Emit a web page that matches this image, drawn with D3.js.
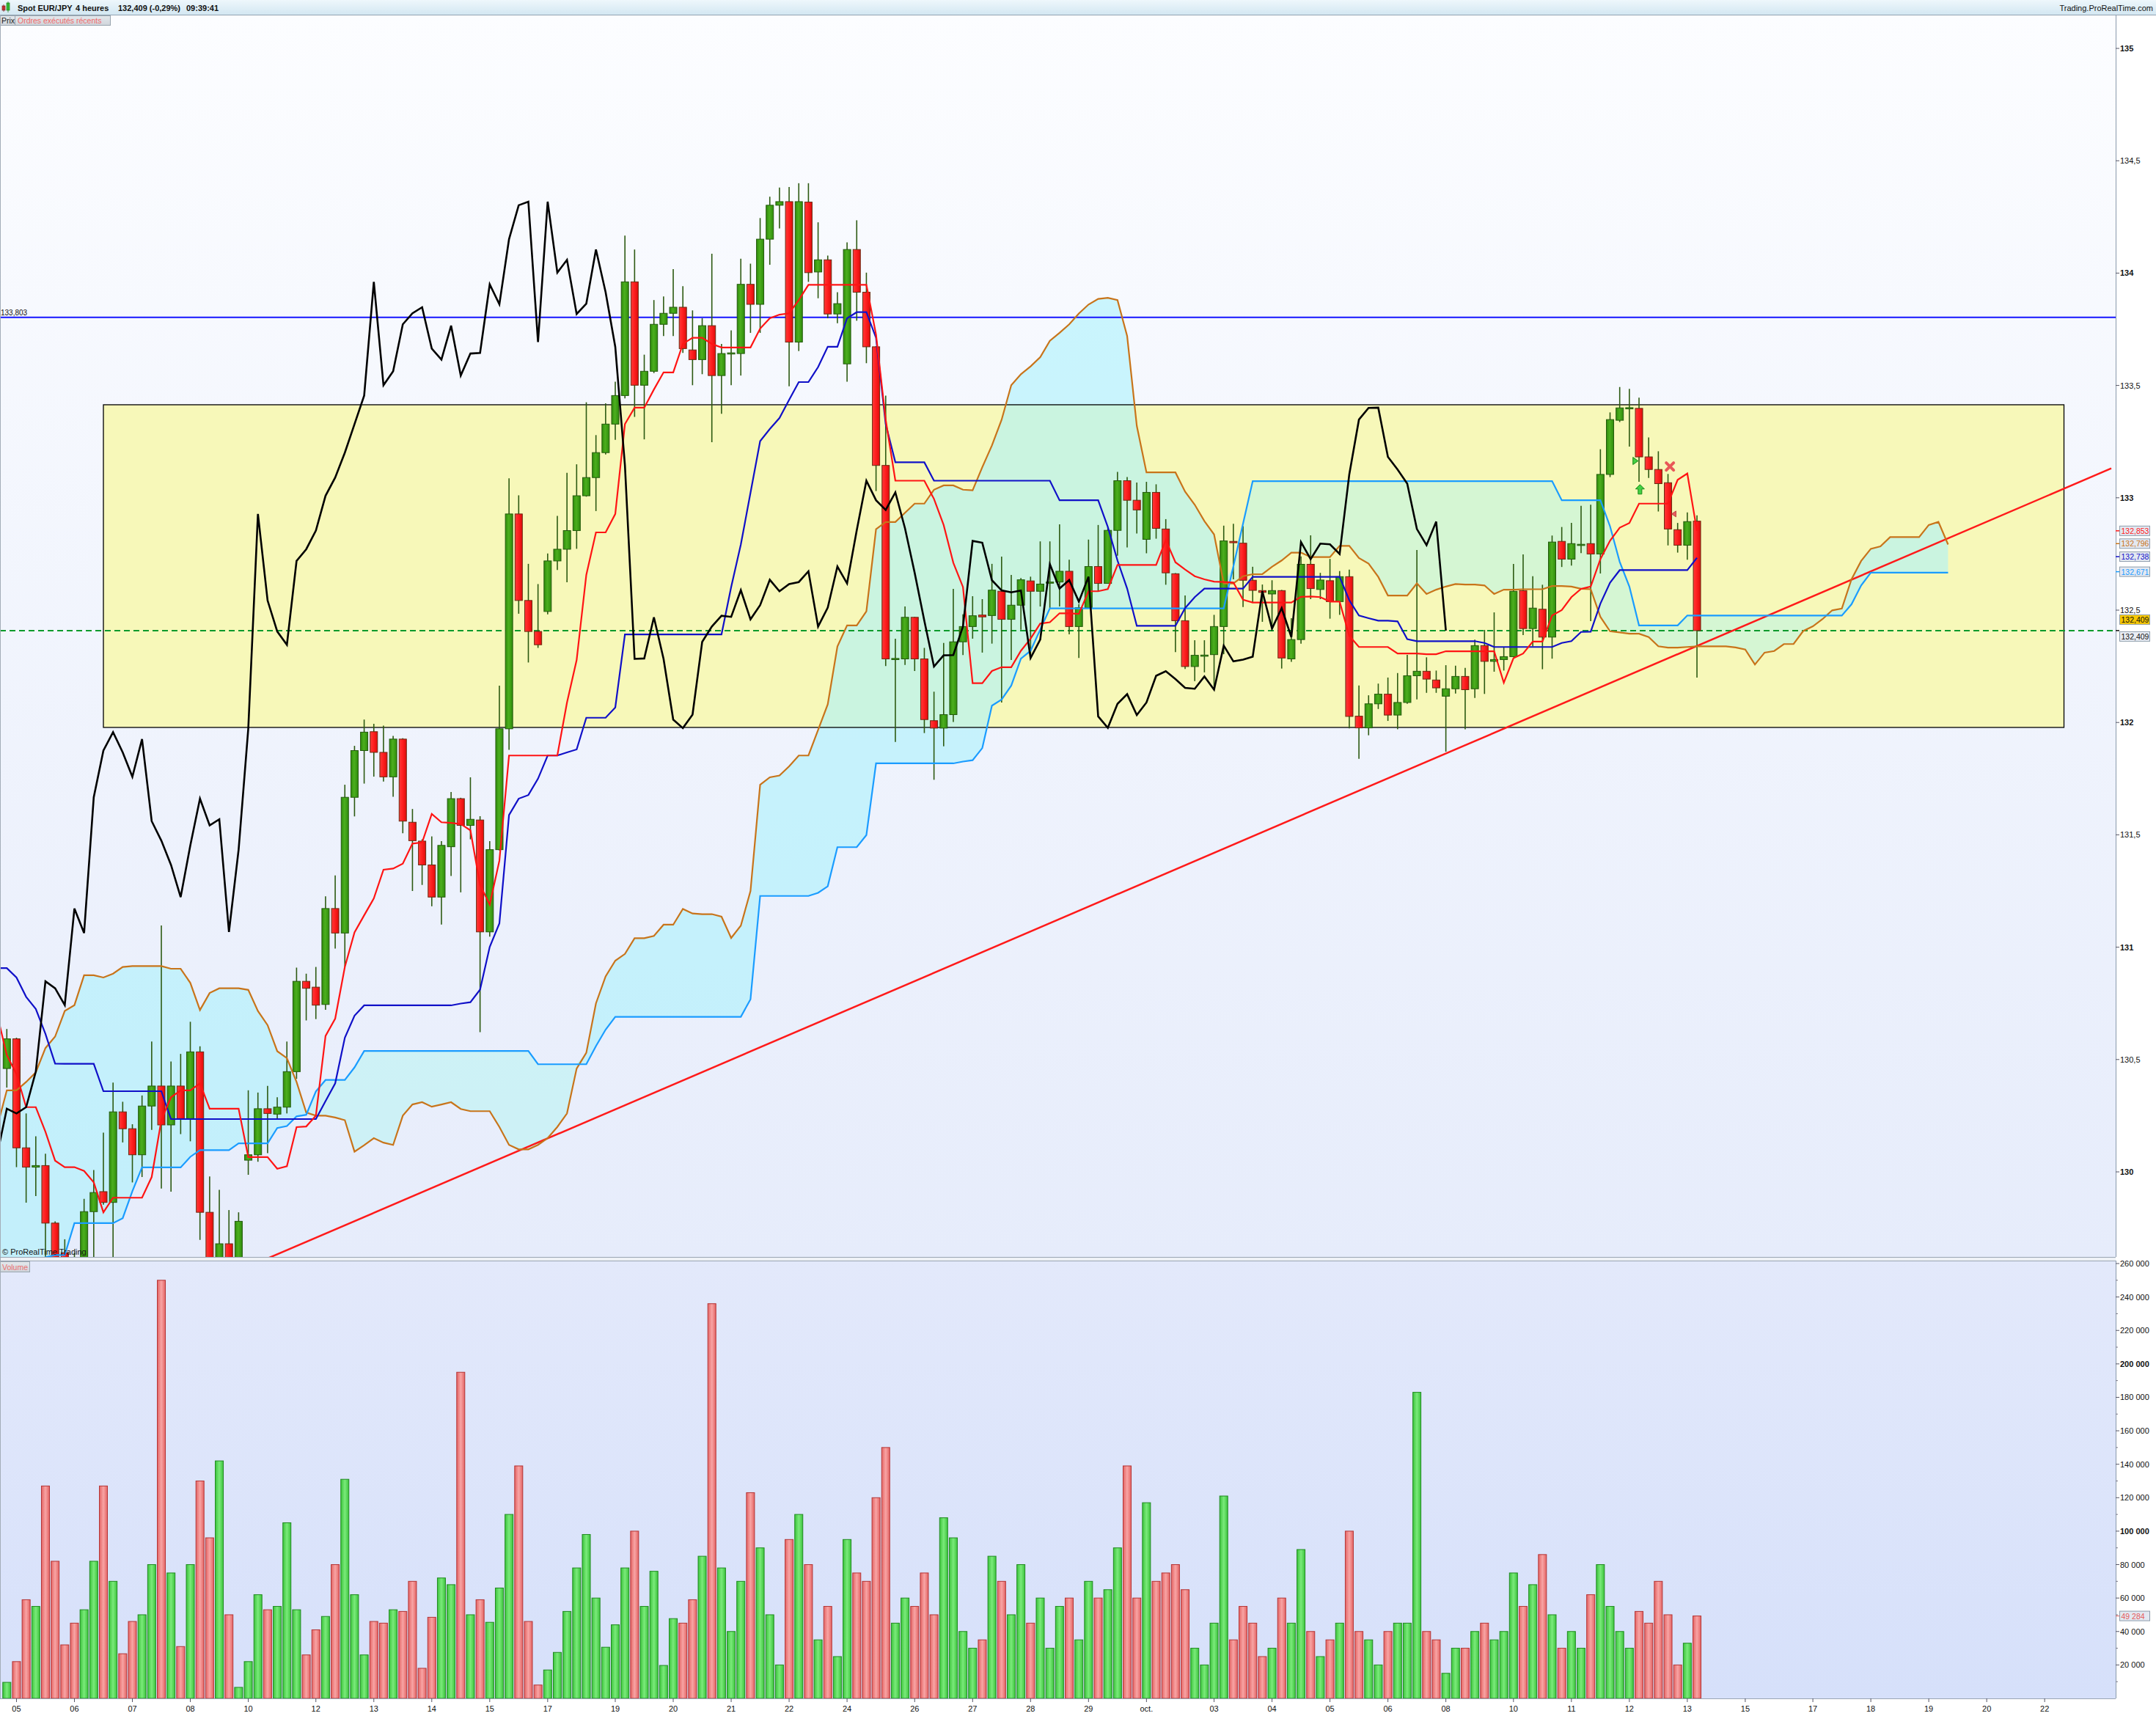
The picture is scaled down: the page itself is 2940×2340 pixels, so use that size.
<!DOCTYPE html>
<html>
<head>
<meta charset="utf-8">
<script src="https://cdn.jsdelivr.net/npm/d3@7"></script>
<style>
html, body { margin: 0; padding: 0; background: #fff; }
svg { display: block; font-family: "Liberation Sans", Arial, sans-serif; }
</style>
</head>
<body>
<svg id="chart"></svg>
<script>
// ---- candles, 4h bars (index 0 = first visible bar) ----
const opens = [
130.460,130.592,130.107,130.021,130.028,129.772,129.640,129.600,129.500,129.823,
129.912,129.864,130.267,130.192,130.076,130.293,130.382,130.209,130.382,130.237,
130.534,129.820,129.550,129.680,129.550,130.052,130.076,130.281,130.257,130.288,
130.446,130.848,130.822,130.745,131.172,131.063,131.667,131.875,131.959,131.867,
131.758,131.926,131.556,131.472,131.366,131.223,131.447,131.661,131.542,131.566,
131.068,131.434,131.972,132.928,132.543,132.405,132.494,132.719,132.771,132.854,
133.009,133.090,133.201,133.328,133.455,133.961,133.501,133.563,133.772,133.821,
133.848,133.658,133.615,133.766,133.544,133.642,133.642,133.950,133.861,134.151,
134.302,134.318,133.693,134.316,134.005,134.059,133.818,133.596,134.105,133.915,
133.672,133.144,132.283,132.283,132.468,132.283,132.008,131.975,132.035,132.359,
132.427,132.478,132.476,132.584,132.459,132.522,132.630,132.584,132.621,132.625,
132.673,132.427,132.511,132.694,132.619,132.855,133.076,132.989,132.815,133.024,
132.861,132.662,132.453,132.249,132.299,132.302,132.427,132.806,132.798,132.633,
132.587,132.572,132.587,132.283,132.369,132.704,132.592,132.631,132.538,132.649,
132.028,131.976,132.083,132.126,132.033,132.089,132.208,132.228,132.189,132.117,
132.150,132.205,132.150,132.342,132.272,132.280,132.293,132.587,132.418,132.504,
132.380,132.806,132.727,132.792,132.796,132.750,133.104,133.345,133.400,133.398,
133.182,133.126,133.067,132.858,132.789,132.896];
const highs = [
130.636,130.597,130.260,130.158,130.081,129.780,129.700,129.640,129.880,130.008,
130.175,130.397,130.312,130.212,130.340,130.580,131.097,130.491,130.525,130.668,
130.559,129.980,129.920,129.830,129.820,130.363,130.353,130.383,130.332,130.580,
130.909,130.882,130.912,131.226,131.319,131.723,131.896,132.013,131.994,131.986,
131.940,131.930,131.615,131.480,131.493,131.472,131.691,131.665,131.756,131.583,
131.472,132.164,133.087,133.011,132.706,132.616,132.752,132.919,133.111,133.149,
133.425,133.279,133.420,133.517,134.167,134.105,133.637,133.880,133.896,134.018,
133.942,133.834,133.799,134.086,133.685,133.745,134.064,134.042,134.245,134.340,
134.381,134.383,134.400,134.400,134.226,134.078,133.915,134.137,134.235,134.002,
133.675,133.455,132.373,132.516,132.470,132.332,132.137,132.354,132.595,132.481,
132.562,132.549,132.706,132.738,132.657,132.643,132.649,132.806,132.806,132.882,
132.724,132.526,132.814,132.879,132.868,133.115,133.092,133.068,133.071,133.060,
132.905,132.665,132.565,132.366,132.366,132.479,132.876,132.884,132.874,132.693,
132.614,132.633,132.590,132.464,132.739,132.833,132.666,132.728,132.674,132.680,
132.165,132.121,132.173,132.200,132.220,132.301,132.768,132.290,132.231,132.255,
132.253,132.243,132.369,132.412,132.490,132.336,132.706,132.748,132.651,132.613,
132.832,132.870,132.888,132.964,132.969,133.216,133.380,133.493,133.485,133.446,
133.269,133.207,133.106,132.888,132.935,132.922];
const lows = [
130.375,130.021,129.863,129.892,129.615,129.450,129.500,129.400,129.450,129.550,
129.854,129.550,130.131,129.953,129.977,130.187,129.926,129.912,130.168,130.136,
129.697,129.500,129.500,129.500,129.500,129.987,130.045,130.083,130.233,130.260,
130.414,130.674,130.680,130.721,130.994,130.912,131.582,131.728,131.759,131.737,
131.669,131.507,131.250,131.277,131.182,131.101,131.317,131.244,131.480,130.622,
131.047,131.430,131.878,132.484,132.267,132.332,132.481,132.679,132.624,132.773,
133.005,132.941,133.193,133.258,133.442,133.360,133.260,133.555,133.720,133.720,
133.645,133.501,133.550,133.247,133.374,133.501,133.544,133.734,133.734,134.037,
134.199,133.496,133.653,133.961,133.888,133.799,133.777,133.517,133.788,133.599,
133.030,132.251,131.913,132.256,132.229,131.953,131.745,131.894,132.002,132.300,
132.373,132.311,132.351,132.089,132.278,132.413,132.300,132.516,132.508,132.516,
132.392,132.287,132.511,132.584,132.619,132.742,132.779,132.841,132.753,132.818,
132.613,132.313,132.238,132.184,132.223,132.147,132.304,132.637,132.514,132.532,
132.448,132.427,132.240,132.270,132.351,132.549,132.549,132.462,132.479,131.974,
131.838,131.943,132.060,132.007,131.970,132.083,132.103,132.132,132.132,131.870,
132.129,131.970,132.109,132.127,132.226,132.231,132.290,132.389,132.339,132.237,
132.284,132.692,132.698,132.754,132.451,132.663,133.092,133.337,133.228,133.071,
133.088,132.939,132.788,132.756,132.724,132.200];
const closes = [
130.592,130.107,130.021,130.028,129.772,129.550,129.560,129.480,129.823,129.908,
129.864,130.267,130.192,130.076,130.293,130.382,130.209,130.382,130.237,130.534,
129.820,129.550,129.680,129.550,129.780,130.076,130.281,130.260,130.288,130.446,
130.848,130.817,130.742,131.172,131.063,131.667,131.875,131.957,131.867,131.758,
131.926,131.561,131.474,131.366,131.223,131.453,131.661,131.542,131.569,131.068,
131.434,131.972,132.928,132.543,132.405,132.346,132.719,132.771,132.854,133.009,
133.090,133.201,133.328,133.455,133.961,133.501,133.563,133.772,133.821,133.848,
133.664,133.615,133.766,133.544,133.642,133.645,133.950,133.861,134.151,134.302,
134.318,133.693,134.318,134.002,134.059,133.818,133.864,134.105,133.915,133.672,
133.144,132.283,132.285,132.468,132.283,132.013,131.975,132.035,132.359,132.427,
132.475,132.470,132.589,132.459,132.522,132.635,132.584,132.616,132.625,132.673,
132.427,132.511,132.694,132.619,132.855,133.076,132.989,132.946,133.024,132.864,
132.666,132.453,132.249,132.299,132.300,132.427,132.808,132.800,132.633,132.588,
132.579,132.587,132.287,132.369,132.704,132.596,132.634,132.538,132.649,132.027,
131.976,132.083,132.126,132.033,132.089,132.208,132.228,132.193,132.154,132.150,
132.205,132.146,132.342,132.272,132.280,132.293,132.584,132.418,132.509,132.380,
132.803,132.727,132.796,132.793,132.750,133.104,133.348,133.400,133.401,133.182,
133.126,133.063,132.861,132.789,132.894,132.409];
const volumes = [
9600,22000,59000,55000,127000,82000,32000,45000,53000,82000,
127000,70000,26700,46000,50000,80000,250000,75000,31000,80000,
130000,96000,142000,50000,6600,22000,62000,53000,55000,105000,
53000,26000,41000,49000,80000,131000,62000,26000,46000,45000,
53000,52000,70000,18000,48500,72000,68000,195000,50000,59000,
45500,66000,110000,139000,46000,8000,17000,27500,52000,78000,
98000,60000,30600,44000,78000,100000,55000,76000,19700,47700,
45000,59000,85000,236000,78000,40000,70000,123000,90000,50000,
20000,95000,110000,80000,35000,55000,25000,95000,75000,70000,
120000,150000,45000,60000,55000,75000,50000,108000,96000,40000,
30000,35000,85000,70000,50000,80000,45000,60000,30000,55000,
60000,35000,70000,60000,65000,90000,139000,60000,117000,70000,
75000,80000,65000,30000,20000,45000,121000,35000,55000,45000,
25000,30000,60000,45000,89000,40000,25000,35000,45000,100000,
40000,35000,20000,40000,45000,45000,183000,40000,35000,15000,
30000,30000,40000,45000,35000,40000,75000,55000,68000,86000,
50000,30000,40000,30000,62000,80000,55000,40000,30000,52000,
45000,70000,50000,20000,33000,49284];

// ---- Ichimoku lines: these arrays start one bar before the first candle ----
const lineFirstBar = -1;
const tenkan = [130.700,
130.520,130.435,130.288,130.288,130.178,130.050,130.021,130.021,130.004,129.953,
129.820,129.885,129.885,129.885,129.885,129.977,130.230,130.332,130.363,130.363,
130.394,130.281,130.281,130.281,130.281,130.066,130.066,130.066,130.014,130.025,
130.199,130.202,130.250,130.605,130.682,130.912,131.066,131.142,131.217,131.345,
131.350,131.372,131.461,131.466,131.593,131.556,131.553,131.548,131.520,131.277,
131.190,131.385,131.853,131.853,131.853,131.853,131.853,131.853,132.089,132.278,
132.657,132.846,132.846,132.928,133.328,133.401,133.401,133.482,133.558,133.558,
133.685,133.712,133.712,133.685,133.669,133.669,133.669,133.669,133.753,133.799,
133.815,133.821,133.880,133.948,133.948,133.948,133.948,133.948,133.948,133.948,
133.726,133.347,133.076,133.076,133.076,133.076,132.995,132.879,132.711,132.603,
132.175,132.175,132.229,132.246,132.246,132.319,132.373,132.440,132.446,132.486,
132.486,132.483,132.584,132.584,132.594,132.701,132.701,132.701,132.701,132.701,
132.812,132.713,132.681,132.651,132.637,132.627,132.625,132.623,132.546,132.534,
132.534,132.534,132.534,132.534,132.559,132.561,132.558,132.538,132.538,132.386,
132.336,132.336,132.336,132.336,132.307,132.307,132.307,132.304,132.304,132.317,
132.317,132.317,132.317,132.317,132.317,132.177,132.286,132.307,132.360,132.360,
132.476,132.500,132.558,132.595,132.605,132.727,132.809,132.867,132.888,132.974,
132.974,132.974,132.974,133.080,133.108,132.853];
const kijun = [130.907,
130.907,130.865,130.779,130.725,130.614,130.482,130.481,130.481,130.481,130.481,
130.359,130.359,130.359,130.359,130.359,130.359,130.359,130.235,130.235,130.235,
130.235,130.235,130.235,130.235,130.235,130.235,130.235,130.235,130.235,130.235,
130.235,130.235,130.235,130.315,130.394,130.597,130.695,130.741,130.741,130.741,
130.741,130.741,130.741,130.741,130.741,130.741,130.741,130.749,130.755,130.811,
131.001,131.106,131.588,131.661,131.677,131.750,131.853,131.853,131.867,131.880,
132.021,132.021,132.021,132.067,132.392,132.392,132.392,132.392,132.392,132.392,
132.392,132.392,132.392,132.392,132.392,132.603,132.792,133.022,133.252,133.306,
133.355,133.436,133.515,133.515,133.582,133.672,133.672,133.799,133.826,133.826,
133.712,133.328,133.158,133.158,133.158,133.158,133.076,133.076,133.076,133.076,
133.076,133.076,133.076,133.076,133.076,133.076,133.076,133.076,133.076,132.989,
132.989,132.989,132.989,132.989,132.870,132.721,132.596,132.430,132.430,132.430,
132.430,132.430,132.509,132.558,132.596,132.596,132.596,132.596,132.596,132.648,
132.648,132.648,132.648,132.648,132.648,132.648,132.648,132.648,132.648,132.544,
132.476,132.464,132.453,132.453,132.450,132.371,132.362,132.362,132.362,132.362,
132.362,132.362,132.362,132.354,132.336,132.336,132.336,132.336,132.336,132.336,
132.336,132.354,132.362,132.403,132.404,132.529,132.622,132.678,132.678,132.678,
132.678,132.678,132.678,132.678,132.678,132.733];
// span A and span B run 26 bars past the last candle
const spanA = [129.400,
129.450,129.500,129.550,129.600,129.620,129.630,129.630,129.772,129.772,129.772,
129.772,129.772,129.794,129.914,130.020,130.020,130.020,130.020,130.020,130.067,
130.097,130.097,130.097,130.097,130.127,130.127,130.127,130.127,130.195,130.204,
130.247,130.254,130.358,130.409,130.409,130.409,130.465,130.538,130.538,130.538,
130.538,130.538,130.538,130.538,130.538,130.538,130.538,130.538,130.538,130.538,
130.538,130.538,130.538,130.538,130.538,130.479,130.479,130.479,130.479,130.479,
130.479,130.560,130.633,130.690,130.690,130.690,130.690,130.690,130.690,130.690,
130.690,130.690,130.690,130.690,130.690,130.690,130.690,130.768,131.228,131.228,
131.228,131.228,131.228,131.228,131.242,131.271,131.445,131.445,131.445,131.499,
131.818,131.818,131.818,131.818,131.818,131.818,131.818,131.818,131.818,131.826,
131.832,131.886,132.075,132.102,132.164,132.284,132.319,132.413,132.508,132.508,
132.508,132.508,132.508,132.508,132.508,132.508,132.508,132.508,132.508,132.508,
132.508,132.508,132.508,132.508,132.508,132.508,132.508,132.695,132.885,133.074,
133.074,133.074,133.074,133.074,133.074,133.074,133.074,133.074,133.074,133.074,
133.074,133.074,133.074,133.074,133.074,133.074,133.074,133.074,133.074,133.074,
133.074,133.074,133.074,133.074,133.074,133.074,133.074,133.074,133.074,133.074,
133.074,132.989,132.989,132.989,132.989,132.989,132.873,132.715,132.605,132.432,
132.432,132.432,132.432,132.432,132.476,132.476,132.476,132.476,132.476,132.476,
132.476,132.476,132.476,132.476,132.476,132.476,132.476,132.476,132.476,132.476,
132.476,132.526,132.610,132.667,132.667,132.667,132.667,132.667,132.667,132.667,
132.667,132.667];
const spanB = [130.200,
130.363,130.363,130.400,130.443,130.551,130.602,130.716,130.742,130.875,130.875,
130.865,130.882,130.912,130.916,130.916,130.916,130.916,130.904,130.904,130.841,
130.720,130.796,130.817,130.817,130.817,130.810,130.716,130.653,130.537,130.506,
130.400,130.264,130.250,130.250,130.242,130.230,130.090,130.119,130.150,130.130,
130.120,130.250,130.300,130.310,130.290,130.300,130.310,130.280,130.270,130.270,
130.270,130.200,130.120,130.100,130.100,130.120,130.150,130.200,130.260,130.460,
130.530,130.750,130.870,130.940,130.970,131.040,131.040,131.050,131.100,131.100,
131.170,131.150,131.147,131.147,131.136,131.041,131.096,131.250,131.723,131.756,
131.764,131.805,131.853,131.853,131.967,132.081,132.338,132.432,132.432,132.495,
132.860,132.892,132.892,132.933,132.974,132.974,133.036,133.055,133.055,133.036,
133.033,133.136,133.233,133.347,133.501,133.550,133.585,133.626,133.699,133.734,
133.772,133.820,133.860,133.885,133.890,133.880,133.720,133.320,133.113,133.113,
133.113,133.113,133.027,132.969,132.896,132.837,132.619,132.619,132.651,132.660,
132.660,132.693,132.721,132.756,132.756,132.736,132.736,132.736,132.786,132.786,
132.732,132.707,132.648,132.565,132.565,132.565,132.619,132.572,132.591,132.605,
132.616,132.614,132.614,132.610,132.572,132.591,132.591,132.593,132.593,132.593,
132.607,132.607,132.605,132.595,132.593,132.470,132.406,132.401,132.395,132.395,
132.380,132.339,132.333,132.333,132.336,132.339,132.339,132.339,132.339,132.334,
132.325,132.258,132.311,132.318,132.349,132.349,132.407,132.428,132.460,132.499,
132.507,132.637,132.719,132.773,132.784,132.825,132.825,132.825,132.825,132.879,
132.893,132.792];
const chikouShift = 26;

// ---- drawings on the chart ----
const resistance = 133.803;
const lastPrice = 132.409;
const zoneStart = 10, zoneEnd = 213, zoneLow = 131.978, zoneHigh = 133.414;
const trendFrom = [20, 129.486], trendTo = [217.9, 133.131];
const markerBars = [168.6, 169.1, 172.2, 172.6];
const markerPrices = [133.164, 133.036, 133.139, 132.928];
const markerKinds = ["tri-right", "arrow-up", "cross", "tri-left"];

// ---- axes ----
const priceTicks = [130, 130.5, 131, 131.5, 132, 132.5, 133, 133.5, 134, 134.5, 135];
const volumeTicks = [20000, 40000, 60000, 80000, 100000, 120000, 140000, 160000, 180000, 200000, 220000, 240000, 260000];
const tickBars = [1,7,13,19,25,32,38,44,50,56,63,69,75,81,87,94,100,106,112,118,125,131,137,143,149,156,162,168,174,180,187,193,199,205,211];
const tickLabels = ["05","06","07","08","10","12","13","14","15","17","19","20","21","22","24","26","27","28","29","oct.","03","04","05","06","08","10","11","12","13","15","17","18","19","20","22"];
const tagValues = [132.853, 132.796, 132.738, 132.671];
const tagColors = ["#ff1a1a", "#c8741a", "#1010c8", "#1a9cff"];

// ---- layout ----
const W = 2940, H = 2340;
const plotR = 2885;
const priceTop = 21, priceBot = 1714;
const volTop = 1719, volBot = 2316;

const fr = d3.formatLocale({decimal: ",", thousands: " ", grouping: [3], currency: ["", ""]});
const fmtTick = fr.format(".1~f"), fmt3 = fr.format(".3f"), fmtVol = fr.format(",");

const x = d3.scaleLinear().domain([0, 175]).range([9.3, 2314.05]);
const yP = d3.scaleLinear().domain([130, 135]).range([1598, 66]);
const yV = d3.scaleLinear().domain([0, 260000]).range([volBot, 1723]);

const svg = d3.select("#chart").attr("width", W).attr("height", H);
svg.append("rect").attr("width", W).attr("height", H).attr("fill", "#fff");
const defs = svg.append("defs");
function grad(id, horizontal, stops) {
  const g = defs.append("linearGradient").attr("id", id)
    .attr("x1", 0).attr("y1", 0).attr("x2", horizontal ? 1 : 0).attr("y2", horizontal ? 0 : 1);
  stops.forEach(s => g.append("stop").attr("offset", s[0]).attr("stop-color", s[1]));
}
grad("bgPrice", false, [[0, "#fcfdff"], [1, "#e6ecfb"]]);
grad("bgVol", false, [[0, "#e3e9fb"], [1, "#d6e0fa"]]);
grad("bgHead", false, [[0, "#eef7fc"], [1, "#d3e7f2"]]);
grad("tab", false, [[0, "#e4e8ec"], [1, "#cfd5db"]]);
grad("candUp", true, [[0, "#2f8c0c"], [0.45, "#4caf1e"], [1, "#2f8c0c"]]);
grad("candDn", true, [[0, "#ff3a3a"], [0.45, "#ff2020"], [1, "#e00c0c"]]);
grad("volUp", true, [[0, "#3cc43c"], [0.5, "#7aea7a"], [1, "#3cc43c"]]);
grad("volDn", true, [[0, "#e46464"], [0.5, "#f8a4a4"], [1, "#e46464"]]);
defs.append("clipPath").attr("id", "clipP").append("rect")
  .attr("x", 0).attr("y", priceTop).attr("width", plotR).attr("height", priceBot - priceTop);
defs.append("clipPath").attr("id", "clipV").append("rect")
  .attr("x", 0).attr("y", volTop).attr("width", plotR).attr("height", volBot - volTop);

// header
svg.append("rect").attr("x", 0).attr("y", 0).attr("width", W).attr("height", 20).attr("fill", "url(#bgHead)");
svg.append("line").attr("x1", 0).attr("x2", W).attr("y1", 20.5).attr("y2", 20.5).attr("stroke", "#93a3b1");
svg.append("rect").attr("x", 3).attr("y", 8).attr("width", 4).attr("height", 6).attr("fill", "#e03a3a").attr("stroke", "#7a2020").attr("stroke-width", 0.7);
svg.append("line").attr("x1", 5).attr("x2", 5).attr("y1", 6).attr("y2", 16).attr("stroke", "#7a2020").attr("stroke-width", 0.7);
svg.append("rect").attr("x", 9).attr("y", 4).attr("width", 4).attr("height", 10).attr("fill", "#3ccf3c").attr("stroke", "#1b7a1b").attr("stroke-width", 0.7);
svg.append("line").attr("x1", 11).attr("x2", 11).attr("y1", 2).attr("y2", 17).attr("stroke", "#1b7a1b").attr("stroke-width", 0.7);
const headTexts = [["Spot EUR/JPY", 24], ["4 heures", 103], ["132,409 (-0,29%)", 161], ["09:39:41", 254]];
headTexts.forEach(t => svg.append("text").attr("x", t[1]).attr("y", 15).attr("font-size", 11)
  .attr("font-weight", "bold").attr("fill", "#111").text(t[0]));
svg.append("text").attr("x", 2936).attr("y", 15).attr("text-anchor", "end").attr("font-size", 11)
  .attr("fill", "#111").text("Trading.ProRealTime.com");

// panel backgrounds
svg.append("rect").attr("x", 0).attr("y", priceTop).attr("width", plotR).attr("height", priceBot - priceTop).attr("fill", "url(#bgPrice)");
svg.append("rect").attr("x", 0).attr("y", priceBot).attr("width", plotR).attr("height", volTop - priceBot).attr("fill", "#eef1f6");
svg.append("rect").attr("x", 0).attr("y", volTop).attr("width", plotR).attr("height", volBot - volTop).attr("fill", "url(#bgVol)");

// ---- price panel ----
const gp = svg.append("g").attr("clip-path", "url(#clipP)");
gp.append("rect").attr("x", x(zoneStart)).attr("y", yP(zoneHigh))
  .attr("width", x(zoneEnd) - x(zoneStart)).attr("height", yP(zoneLow) - yP(zoneHigh)).attr("fill", "#f7f8b9");

// cloud: span B above span A in cyan, span A above span B a little lighter
const cloudIdx = d3.range(spanA.length);
const lx = i => x(i + lineFirstBar);
gp.append("path").datum(cloudIdx)
  .attr("d", d3.area().x(lx).y0(i => yP(spanA[i])).y1(i => yP(Math.max(spanA[i], spanB[i]))))
  .attr("fill", "rgb(168,242,251)").attr("fill-opacity", 0.58);
gp.append("path").datum(cloudIdx)
  .attr("d", d3.area().x(lx).y0(i => yP(spanB[i])).y1(i => yP(Math.max(spanA[i], spanB[i]))))
  .attr("fill", "rgb(176,244,240)").attr("fill-opacity", 0.48);

gp.append("rect").attr("x", x(zoneStart)).attr("y", yP(zoneHigh))
  .attr("width", x(zoneEnd) - x(zoneStart)).attr("height", yP(zoneLow) - yP(zoneHigh))
  .attr("fill", "none").attr("stroke", "#000").attr("stroke-width", 1.3);

gp.append("line").attr("x1", 0).attr("x2", plotR).attr("y1", yP(resistance)).attr("y2", yP(resistance))
  .attr("stroke", "#1515ff").attr("stroke-width", 2);
gp.append("line").attr("x1", 0).attr("x2", plotR).attr("y1", yP(lastPrice)).attr("y2", yP(lastPrice))
  .attr("stroke", "#0c9a2c").attr("stroke-width", 2).attr("stroke-dasharray", "8,5");

// candles
const idx = d3.range(closes.length);
gp.selectAll(".wick").data(idx).join("line").attr("class", "wick")
  .attr("x1", i => x(i)).attr("x2", i => x(i))
  .attr("y1", i => yP(highs[i])).attr("y2", i => yP(lows[i]))
  .attr("stroke", "#2d5a12").attr("stroke-width", 1.6);
gp.selectAll(".body").data(idx).join("rect").attr("class", "body")
  .attr("x", i => x(i) - 5).attr("width", 10)
  .attr("y", i => yP(Math.max(opens[i], closes[i])))
  .attr("height", i => Math.max(1.6, Math.abs(yP(opens[i]) - yP(closes[i]))))
  .attr("fill", i => closes[i] >= opens[i] ? "url(#candUp)" : "url(#candDn)")
  .attr("stroke", i => closes[i] >= opens[i] ? "#235a0c" : "#6a2a10").attr("stroke-width", 1);

// trend line
gp.append("line").attr("x1", x(trendFrom[0])).attr("y1", yP(trendFrom[1]))
  .attr("x2", x(trendTo[0])).attr("y2", yP(trendTo[1]))
  .attr("stroke", "#ff1a1a").attr("stroke-width", 2.5);

// ichimoku lines
const lineOf = arr => d3.line().x(lx).y(i => yP(arr[i]));
gp.append("path").datum(cloudIdx).attr("d", lineOf(spanB)).attr("fill", "none").attr("stroke", "#c8741a").attr("stroke-width", 2.2);
gp.append("path").datum(cloudIdx).attr("d", lineOf(spanA)).attr("fill", "none").attr("stroke", "#1a9cff").attr("stroke-width", 2.2);
gp.append("path").datum(d3.range(kijun.length)).attr("d", lineOf(kijun)).attr("fill", "none").attr("stroke", "#1010c8").attr("stroke-width", 2.2);
gp.append("path").datum(d3.range(tenkan.length)).attr("d", lineOf(tenkan)).attr("fill", "none").attr("stroke", "#ff1414").attr("stroke-width", 2.2);
const chikouIdx = idx.filter(i => i >= chikouShift - 1);
gp.append("path").datum(chikouIdx)
  .attr("d", d3.line().x(i => x(i - chikouShift)).y(i => yP(closes[i])))
  .attr("fill", "none").attr("stroke", "#000").attr("stroke-width", 2.6);

// order markers
const markerPath = {
  "tri-right": "M-3,-5L4,0L-3,5Z",
  "arrow-up": "M0,-7L6,-1L2.5,-1L2.5,6L-2.5,6L-2.5,-1L-6,-1Z",
  "cross": "M-5,-5L5,5M5,-5L-5,5",
  "tri-left": "M3,-4L-3,0L3,4Z"
};
markerKinds.forEach((k, j) => {
  const p = gp.append("path").attr("d", markerPath[k])
    .attr("transform", `translate(${x(markerBars[j])},${yP(markerPrices[j])})`);
  if (k === "cross") p.attr("fill", "none").attr("stroke", "#e85858").attr("stroke-width", 4).attr("stroke-linecap", "round");
  else if (k === "tri-left") p.attr("fill", "#e86060").attr("stroke", "#b03030").attr("stroke-width", 0.8);
  else p.attr("fill", "#44d044").attr("stroke", "#168a16").attr("stroke-width", 1);
});

svg.append("text").attr("x", 1).attr("y", yP(resistance) - 3).attr("font-size", 10).attr("fill", "#111").text(fmt3(resistance));
svg.append("text").attr("x", 3).attr("y", priceBot - 3).attr("font-size", 11).attr("fill", "#111").text("© ProRealTime Trading");

// tabs
svg.append("rect").attr("x", 0.5).attr("y", 21.5).attr("width", 20).attr("height", 13).attr("fill", "url(#tab)").attr("stroke", "#98a4ae");
svg.append("text").attr("x", 2).attr("y", 32).attr("font-size", 10.5).attr("fill", "#222").text("Prix");
svg.append("rect").attr("x", 20.5).attr("y", 21.5).attr("width", 130).attr("height", 13).attr("fill", "url(#tab)").attr("stroke", "#98a4ae");
svg.append("text").attr("x", 24).attr("y", 32).attr("font-size", 10.5).attr("fill", "#f06a6a").text("Ordres exécutés récents");

// ---- volume panel ----
const gv = svg.append("g").attr("clip-path", "url(#clipV)");
gv.selectAll(".vol").data(idx).join("rect").attr("class", "vol")
  .attr("x", i => x(i) - 5.5).attr("width", 11)
  .attr("y", i => yV(volumes[i])).attr("height", i => volBot - yV(volumes[i]))
  .attr("fill", i => closes[i] >= opens[i] ? "url(#volUp)" : "url(#volDn)")
  .attr("stroke", i => closes[i] >= opens[i] ? "#1f8a1f" : "#b43434").attr("stroke-width", 1);
svg.append("rect").attr("x", 0.5).attr("y", volTop + 1.5).attr("width", 40).attr("height", 14).attr("fill", "url(#tab)").attr("stroke", "#98a4ae");
svg.append("text").attr("x", 3).attr("y", volTop + 12.5).attr("font-size", 10.5).attr("fill", "#ec7070").text("Volume");

// frames
svg.append("line").attr("x1", 0.5).attr("x2", 0.5).attr("y1", priceTop).attr("y2", volBot).attr("stroke", "#a3adb8");
svg.append("line").attr("x1", 0).attr("x2", plotR).attr("y1", priceBot + 0.5).attr("y2", priceBot + 0.5).attr("stroke", "#9aa6b4");
svg.append("line").attr("x1", 0).attr("x2", plotR).attr("y1", volTop + 0.5).attr("y2", volTop + 0.5).attr("stroke", "#9aa6b4");
svg.append("line").attr("x1", 0).attr("x2", plotR).attr("y1", volBot + 0.5).attr("y2", volBot + 0.5).attr("stroke", "#9aa6b4");
svg.append("line").attr("x1", plotR + 0.5).attr("x2", plotR + 0.5).attr("y1", priceTop).attr("y2", priceBot).attr("stroke", "#8a9aac");
svg.append("line").attr("x1", plotR + 0.5).attr("x2", plotR + 0.5).attr("y1", volTop).attr("y2", volBot).attr("stroke", "#8a9aac");

// price axis
priceTicks.forEach(p => {
  svg.append("line").attr("x1", plotR).attr("x2", plotR + 5).attr("y1", yP(p)).attr("y2", yP(p)).attr("stroke", "#556");
  svg.append("text").attr("x", plotR + 6).attr("y", yP(p) + 4).attr("font-size", 11)
    .attr("font-weight", Number.isInteger(p) ? "bold" : "normal").attr("fill", "#111").text(fmtTick(p));
});
function tag(yc, label, color, fill) {
  svg.append("rect").attr("x", plotR + 5.5).attr("y", yc - 6.5).attr("width", 41).attr("height", 13)
    .attr("fill", fill).attr("stroke", "#8d9cab");
  svg.append("text").attr("x", plotR + 7.5).attr("y", yc + 4).attr("font-size", 10.5).attr("fill", color).text(label);
}
tagValues.forEach((v, j) => {
  svg.append("line").attr("x1", plotR).attr("x2", plotR + 5).attr("y1", yP(v)).attr("y2", yP(v)).attr("stroke", tagColors[j]).attr("stroke-width", 1.5);
  tag(yP(v), fmt3(v), tagColors[j], "#e3e8f1");
});
tag(yP(lastPrice) - 15, fmt3(lastPrice), "#111", "#f8c800");
svg.append("line").attr("x1", plotR).attr("x2", plotR + 5).attr("y1", yP(lastPrice)).attr("y2", yP(lastPrice)).attr("stroke", "#111").attr("stroke-width", 1.5);
tag(yP(lastPrice) + 8, fmt3(lastPrice), "#111", "#e9edf4");

// volume axis
d3.range(10000, 260000, 20000).forEach(v =>
  svg.append("line").attr("x1", plotR).attr("x2", plotR + 3).attr("y1", yV(v)).attr("y2", yV(v)).attr("stroke", "#778"));
volumeTicks.forEach(v => {
  svg.append("line").attr("x1", plotR).attr("x2", plotR + 5).attr("y1", yV(v)).attr("y2", yV(v)).attr("stroke", "#556");
  svg.append("text").attr("x", plotR + 6).attr("y", yV(v) + 4).attr("font-size", 11)
    .attr("font-weight", v % 100000 === 0 ? "bold" : "normal").attr("fill", "#111").text(fmtVol(v));
});
const lastVol = volumes[volumes.length - 1];
svg.append("line").attr("x1", plotR).attr("x2", plotR + 5).attr("y1", yV(lastVol)).attr("y2", yV(lastVol)).attr("stroke", "#e06060");
tag(yV(lastVol), fmtVol(lastVol), "#e65a5a", "#e3e8f1");

// time axis
tickBars.forEach((b, j) => {
  svg.append("line").attr("x1", x(b)).attr("x2", x(b)).attr("y1", volBot).attr("y2", volBot + 5).attr("stroke", "#556");
  svg.append("text").attr("x", x(b)).attr("y", volBot + 18).attr("text-anchor", "middle")
    .attr("font-size", 11).attr("fill", "#111").text(tickLabels[j]);
});
</script>
</body>
</html>
